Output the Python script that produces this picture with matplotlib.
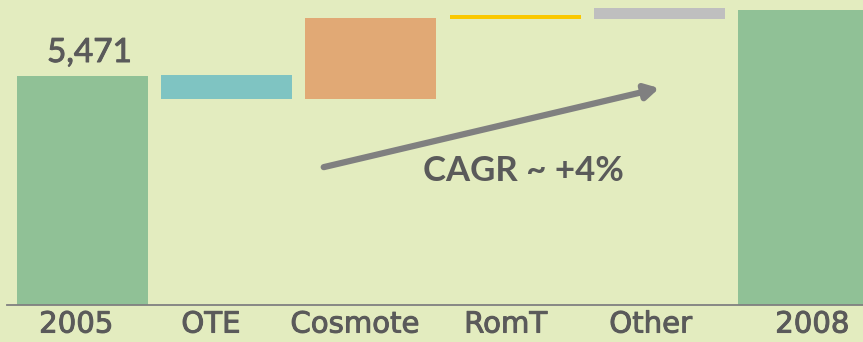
import matplotlib
matplotlib.use("Agg")
import matplotlib.pyplot as plt
import matplotlib.patheffects as pe

# bars of the bridge: low and high value of each block
categories = ["2005", "OTE", "Cosmote", "RomT", "Other", "2008"]
bar_low = [0, 4921, 4921, 6833, 6833, 0]
bar_high = [5471, 5495, 6857, 6928, 7096, 7048]
start_label = "5,471"
cagr_label = "CAGR ~ +4%"

bar_colors = ["#90c196", "#7fc4c2", "#e1a975", "#fac800", "#bfbfbf", "#90c196"]
label_pos = [-0.045, 0.89, 1.89, 2.935, 3.94, 5.06]
bg = "#e3ecbf"
txt = "#5a5a5a"

plt.rcParams["font.family"] = ["Lato", "DejaVu Sans"]

fig = plt.figure(figsize=(8.63, 3.42), dpi=100, facecolor=bg)
ax = fig.add_axes([7 / 863, 37 / 342, 856 / 863, 305 / 342])
ax.set_facecolor(bg)

x = list(range(len(categories)))
heights = [h - l for l, h in zip(bar_low, bar_high)]
ax.bar(x, heights, bottom=bar_low, width=0.908, color=bar_colors, linewidth=0)

ax.set_xlim(-0.5236, 5.4126)
ax.set_ylim(0, 7287)

for s in ["top", "right", "left"]:
    ax.spines[s].set_visible(False)
ax.spines["bottom"].set_color("#808080")
ax.spines["bottom"].set_linewidth(1.3)
ax.set_yticks([])
ax.set_xticks(label_pos)
ax.set_xticklabels(categories, fontsize=21, color=txt, family="DejaVu Sans")
ax.tick_params(axis="x", length=0, pad=4)
thick = [pe.withStroke(linewidth=0.7, foreground=txt)]
for lab in ax.get_xticklabels():
    lab.set_path_effects(thick)

# value on the first bar
ax.annotate(start_label, (x[0], bar_high[0]), xytext=(7, 14),
            textcoords="offset pixels", ha="center", va="baseline",
            fontsize=24, color=txt, path_effects=thick)

# growth arrow
ax.annotate("", xy=(0.762, 0.711), xytext=(0.370, 0.452), xycoords="axes fraction",
            arrowprops=dict(arrowstyle="-|>,head_length=0.8,head_width=0.45",
                            color="#808080", lw=4.5, shrinkA=0, shrinkB=0))
ax.text(0.603, 0.438, cagr_label, transform=ax.transAxes, ha="center", va="center",
        fontsize=25, fontweight="bold", color=txt)

fig.savefig("out.png", dpi=100, facecolor=bg)
